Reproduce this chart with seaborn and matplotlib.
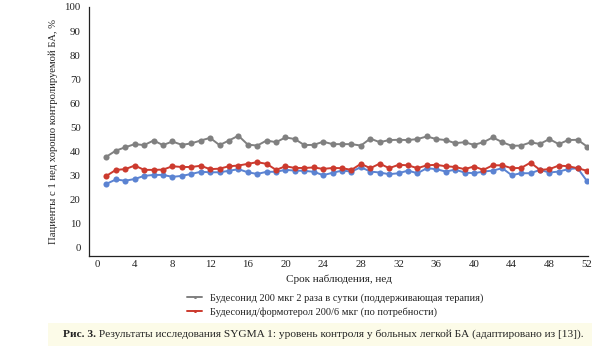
import numpy as np
import pandas as pd
import matplotlib
matplotlib.use("Agg")
import matplotlib.pyplot as plt
import seaborn as sns
from matplotlib.patches import Rectangle

weeks = list(range(1, 53))
budesonide_bid = [37.8, 40.3, 41.7, 43.0, 42.6, 44.5, 42.6, 44.1, 42.7, 43.3,
                  44.5, 45.6, 42.6, 44.5, 46.5, 42.8, 42.4, 44.5, 43.8, 45.8,
                  45.1, 42.6, 42.7, 44.0, 43.0, 43.0, 43.0, 42.4, 45.3, 43.8,
                  44.7, 44.8, 44.7, 45.1, 46.2, 45.1, 44.7, 43.4, 43.8, 42.7,
                  43.8, 45.8, 43.8, 42.3, 42.4, 43.7, 43.1, 45.1, 43.0, 44.7,
                  44.8, 42.0]
bud_form_prn = [29.8, 32.3, 32.6, 34.1, 32.3, 32.3, 32.4, 33.8, 33.5, 33.5,
                34.0, 32.6, 32.8, 33.8, 34.1, 34.8, 35.5, 34.8, 32.3, 33.8,
                33.1, 33.1, 33.3, 32.7, 33.1, 33.0, 32.3, 34.8, 33.0, 34.9,
                33.0, 34.4, 34.2, 33.0, 34.2, 34.4, 33.8, 33.5, 32.6, 33.7,
                32.3, 34.2, 34.2, 33.0, 33.1, 35.3, 32.3, 32.6, 34.1, 33.8,
                33.0, 31.9]
third_series = [26.5, 28.3, 27.8, 28.5, 29.8, 30.2, 30.2, 29.4, 29.8, 30.6,
                31.5, 31.3, 31.3, 31.9, 32.6, 31.3, 30.6, 31.5, 31.5, 32.3,
                32.0, 31.9, 31.5, 30.1, 31.1, 32.0, 31.6, 33.4, 31.6, 31.2,
                30.5, 30.9, 32.0, 30.9, 33.0, 32.6, 31.6, 32.4, 31.2, 30.9,
                31.6, 32.0, 33.0, 30.1, 30.9, 30.9, 32.3, 31.2, 31.6, 32.6,
                33.0, 27.6]

labels = ["Будесонид 200 мкг 2 раза в сутки (поддерживающая терапия)",
          "Будесонид/формотерол 200/6 мкг (по потребности)"]
x_ticks = list(range(0, 53, 4))
y_ticks = list(range(0, 101, 10))
x_label = "Срок наблюдения, нед"
y_label = "Пациенты с 1 нед хорошо контролируемой БА, %"
caption_bold = "Рис. 3."
caption_rest = " Результаты исследования SYGMA 1: уровень контроля у больных легкой БА (адаптировано из [13])."

sns.set_style("white")
plt.rcParams['font.family'] = ['Liberation Serif', 'DejaVu Serif']

W, H = 592, 352
fig = plt.figure(figsize=(W/100, H/100), dpi=100)
ax = fig.add_axes([89/W, 1-256/H, (588-89)/W, (256-7)/H])

df_grey = pd.DataFrame({"week": weeks, "value": budesonide_bid})
df_red = pd.DataFrame({"week": weeks, "value": bud_form_prn})
df_blue = pd.DataFrame({"week": weeks, "value": third_series})

common = dict(marker="o", markersize=4.4, linewidth=1.4, markeredgewidth=0)
sns.lineplot(data=df_blue, x="week", y="value", ax=ax, color="#5b83d2",
             legend=False, **common)
sns.lineplot(data=df_red, x="week", y="value", ax=ax, color="#cc3a2e",
             label=labels[1], **common)
sns.lineplot(data=df_grey, x="week", y="value", ax=ax, color="#808080",
             label=labels[0], **common)

ax.set_xlim(-0.85, 52.1)
ax.set_ylim(-3.5, 100)
ax.set_xticks(x_ticks)
ax.set_yticks(y_ticks)
tc = '#222222'
ax.tick_params(axis='x', direction='in', length=4, width=0.8, labelsize=7.8, pad=3, colors=tc)
ax.tick_params(axis='y', direction='out', length=4, width=0.8, labelsize=7.8, pad=2, colors=tc)
for s in ["top", "right"]:
    ax.spines[s].set_visible(False)
for s in ["left", "bottom"]:
    ax.spines[s].set_linewidth(0.9)
    ax.spines[s].set_color(tc)
ax.set_xlabel(x_label, fontsize=8, labelpad=4, color=tc)
ax.set_ylabel(y_label, fontsize=8, color=tc)
ax.yaxis.set_label_coords((58 - 89) / (588 - 89), (256 - 132) / (256 - 7))

handles, labs = ax.get_legend_handles_labels()
order = [labs.index(labels[0]), labs.index(labels[1])]
leg = ax.legend([handles[i] for i in order], [labs[i] for i in order],
                loc="center left", bbox_to_anchor=(183/W, 1-305/H),
                bbox_transform=fig.transFigure, frameon=False, fontsize=8,
                handlelength=1.3, handletextpad=0.7, labelspacing=0.4,
                markerscale=0.5, borderaxespad=0)
for t in leg.get_texts():
    t.set_color(tc)

fig.patches.append(Rectangle((48/W, 1-346/H), (W-48)/W, 23/H,
                             transform=fig.transFigure, facecolor="#fcfbe8",
                             edgecolor="none", zorder=0))
t1 = fig.text(63/W, 1-334.5/H, caption_bold, fontsize=8, fontweight="bold",
              va="center", ha="left", color=tc)
t2 = fig.text(0, 1-334.5/H, caption_rest, fontsize=8,
              va="center", ha="left", color=tc)

def fit(texts, target):
    r = fig.canvas.get_renderer()
    w = sum(t.get_window_extent(renderer=r).width for t in texts)
    for t in texts:
        t.set_fontsize(t.get_fontsize() * target / w)

fig.canvas.draw()
fit([t1, t2], 522)
fit([leg.get_texts()[0]], 272)
s = leg.get_texts()[0].get_fontsize()
leg.get_texts()[1].set_fontsize(s)
r = fig.canvas.get_renderer()
yl = ax.yaxis.label
h = yl.get_window_extent(renderer=r).height
yl.set_fontsize(yl.get_fontsize() * 226 / h)
fig.canvas.draw()
bb = t1.get_window_extent(renderer=r)
t2.set_x(bb.x1 / W)

fig.savefig("out.png", dpi=100)
